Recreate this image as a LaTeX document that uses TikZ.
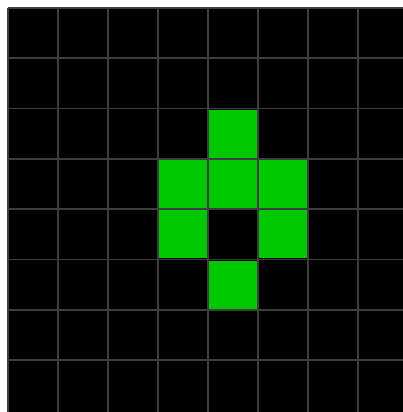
\documentclass[tikz,border=0pt]{standalone}
\definecolor{gridgray}{RGB}{62,62,62}
\definecolor{cellgreen}{RGB}{0,200,0}
\begin{document}
\begin{tikzpicture}[x=1pt,y=-1pt,
  gridline/.style={draw=gridgray,line width=1.6pt},
  livecell/.style={fill=cellgreen}]
\useasboundingbox (0,0) rectangle (403,412);
\fill[white] (0,0) rectangle (403,412);
\fill[black] (8,8) rectangle (403,412);
\foreach \i in {0,...,7} {
  \draw[gridline] ({8+50*\i},8) -- ({8+50*\i},412);
  \draw[gridline] (8,{8+50.3*\i}) -- (403,{8+50.3*\i});
}
\foreach \c/\r in {4/2,3/3,4/3,5/3,3/4,5/4,4/5} {
  \fill[livecell] ({8+50*\c+1.2},{8+50.3*\r+1.2}) rectangle ({8+50*(\c+1)-1.2},{8+50.3*(\r+1)-1.2});
}
\end{tikzpicture}
\end{document}
